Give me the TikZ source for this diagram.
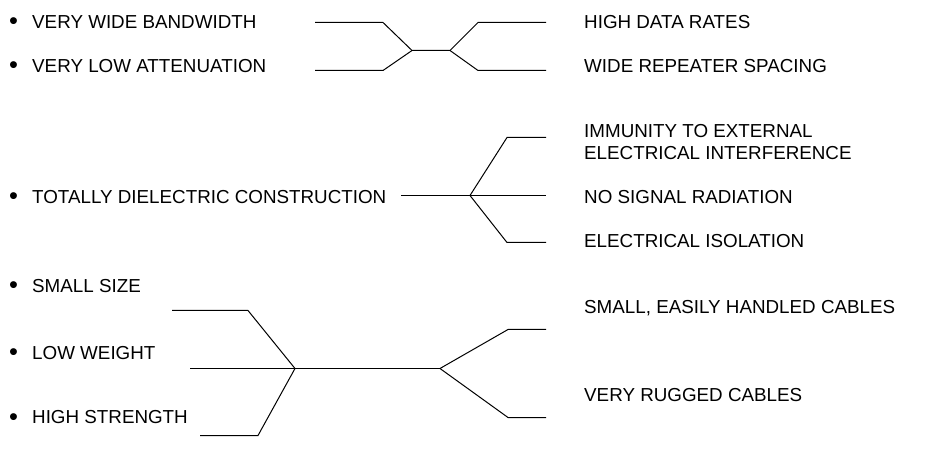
\documentclass[tikz,border=0pt]{standalone}
\usepackage{fontspec}
\setmainfont{Liberation Sans}
\usetikzlibrary{positioning}
\newcommand{\bul}{\makebox[23bp][l]{\raisebox{-1.5bp}{\scalebox{1.35}{\textbullet}}}}

\begin{document}
\begin{tikzpicture}[
      x=1bp, y=-1bp,
      item/.style = {anchor=base west, inner sep=0pt, font=\fontsize{18.8bp}{22bp}\selectfont},
      res/.style  = {anchor=base west, inner sep=0pt, align=left,
                     font=\fontsize{18.8bp}{22bp}\selectfont},
      ln/.style   = {draw, line width=1bp},
    ]
    \useasboundingbox (0,0) rectangle (927,456);

    %% ------------------------------------------------ bandwidth / attenuation
    \node[item] (bw)  at (9, 28.5) {\bul VERY WIDE BANDWIDTH};
    \node[item] (att) at (9, 72.5) {\bul VERY LOW ATTENUATION};
    \node[res] (rate) at (584, 28.5) {HIGH DATA RATES};
    \node[res] (rep)  at (584, 72.5) {WIDE REPEATER SPACING};
    \coordinate (bw0) at (315, 22.5);  \coordinate (bw1) at (383, 22.5);
    \coordinate (at0) at (315, 70.5);  \coordinate (at1) at (383, 70.5);
    \coordinate (ja)  at (412, 50.5);  \coordinate (jb)  at (450, 50.5);
    \coordinate (ra1) at (478, 22.5);  \coordinate (ra0) at (546, 22.5);
    \coordinate (rr1) at (478, 70.5);  \coordinate (rr0) at (546, 70.5);
    \draw[ln] (bw0) -- (bw1) -- (ja) -- (jb) -- (ra1) -- (ra0);
    \draw[ln] (at0) -- (at1) -- (ja);
    \draw[ln] (jb) -- (rr1) -- (rr0);

    %% ------------------------------------------------ dielectric construction
    \node[item] (die) at (9, 203.5) {\bul TOTALLY DIELECTRIC CONSTRUCTION};
    \node[res] (imm) at (584, 159.5) {IMMUNITY TO EXTERNAL\\ELECTRICAL INTERFERENCE};
    \node[res] (rad) at (584, 203.5) {NO SIGNAL RADIATION};
    \node[res] (iso) at (584, 247.5) {ELECTRICAL ISOLATION};
    \coordinate (di0) at (401, 195.5); \coordinate (jc)  at (470, 195.5);
    \coordinate (im1) at (507, 137.5); \coordinate (im0) at (546, 137.5);
    \coordinate (rd0) at (546, 195.5);
    \coordinate (is1) at (507, 242.5); \coordinate (is0) at (546, 242.5);
    \draw[ln] (di0) -- (jc) -- (rd0);
    \draw[ln] (jc) -- (im1) -- (im0);
    \draw[ln] (jc) -- (is1) -- (is0);

    %% ------------------------------------------------ size / weight / strength
    \node[item] (sml) at (9, 292.5) {\bul SMALL SIZE};
    \node[item] (wgt) at (9, 359.5) {\bul LOW WEIGHT};
    \node[item] (str) at (9, 423.5) {\bul HIGH STRENGTH};
    \node[res] (hand) at (584, 313.5) {SMALL, EASILY HANDLED CABLES};
    \node[res] (rug)  at (584, 401.5) {VERY RUGGED CABLES};
    \coordinate (sm0) at (172, 310.5); \coordinate (sm1) at (248, 310.5);
    \coordinate (wg0) at (190, 368.5); \coordinate (jd)  at (295, 368.5);
    \coordinate (st0) at (200, 435.5); \coordinate (st1) at (258, 435.5);
    \coordinate (je)  at (440, 368.5);
    \coordinate (hd1) at (508, 329.5); \coordinate (hd0) at (546, 329.5);
    \coordinate (rg1) at (508, 417.5); \coordinate (rg0) at (546, 417.5);
    \draw[ln] (sm0) -- (sm1) -- (jd);
    \draw[ln] (st0) -- (st1) -- (jd);
    \draw[ln] (wg0) -- (jd) -- (je);
    \draw[ln] (je) -- (hd1) -- (hd0);
    \draw[ln] (je) -- (rg1) -- (rg0);
  \end{tikzpicture}
\end{document}
